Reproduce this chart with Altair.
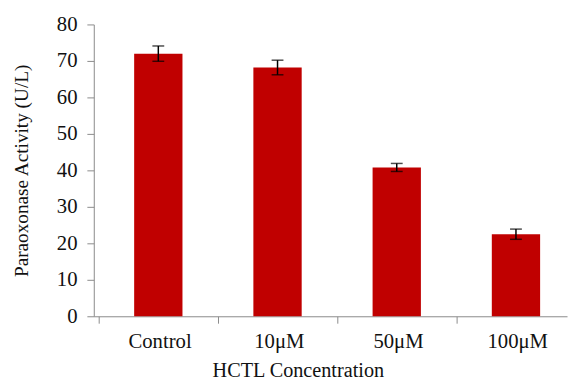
import json
import altair as alt
import pandas as pd

categories = ["Control", "10μM", "50μM", "100μM"]
values = [72.0, 68.2, 40.8, 22.5]
errors = [2.1, 2.0, 1.1, 1.4]

df = pd.DataFrame({
    "cat": categories,
    "pos": [i + 0.5 for i in range(len(categories))],
    "value": values,
    "lo": [v - e for v, e in zip(values, errors)],
    "hi": [v + e for v, e in zip(values, errors)],
})

FONT = "Liberation Serif"
AXIS_COLOR = "#8a8a8a"
TEXT_COLOR = "#111111"

label_expr = json.dumps(categories) + "[datum.value]"
xscale = alt.Scale(domain=[0, 3.887], nice=False, zero=False)
yscale = alt.Scale(domain=[0, 80], nice=False)

x_axis = alt.Axis(
    values=[0, 1, 2, 3],
    labelExpr=label_expr,
    labelOffset=61.75,
    labelFlush=False,
    labelOverlap=False,
    grid=False,
    tickSize=7,
    tickColor=AXIS_COLOR,
    domainColor=AXIS_COLOR,
    labelFont=FONT,
    labelFontSize=21,
    labelColor=TEXT_COLOR,
    labelPadding=8,
    title="HCTL  Concentration",
    titleFont=FONT,
    titleFontSize=20.5,
    titleFontWeight="normal",
    titleColor=TEXT_COLOR,
    titleX=207,
    titleY=61,
    titleAlign="center",
    titleBaseline="alphabetic",
)

y_axis = alt.Axis(
    values=list(range(0, 81, 10)),
    labelOverlap=False,
    grid=False,
    tickSize=7,
    tickColor=AXIS_COLOR,
    domainColor=AXIS_COLOR,
    labelFont=FONT,
    labelFontSize=21,
    labelColor=TEXT_COLOR,
    labelPadding=10,
    title="Paraoxonase Activity (U/L)",
    titleFont=FONT,
    titleFontSize=19.5,
    titleFontWeight="normal",
    titleColor=TEXT_COLOR,
    titleX=-73,
    titleY=148,
    titleAlign="center",
    titleBaseline="middle",
    titleAngle=270,
)

def X():
    return alt.X("pos:Q", scale=xscale, axis=x_axis)

def Y(field):
    return alt.Y(field + ":Q", scale=yscale, axis=y_axis)

bars = alt.Chart(df).mark_bar(size=49, color="#C00000").encode(x=X(), y=Y("value"))

rules = alt.Chart(df).mark_rule(color="black", strokeWidth=1.5).encode(
    x=X(), y=Y("lo"), y2="hi:Q"
)
caps_hi = alt.Chart(df).mark_tick(orient="horizontal", size=12, thickness=1.5, color="black").encode(
    x=X(), y=Y("hi")
)
caps_lo = alt.Chart(df).mark_tick(orient="horizontal", size=12, thickness=1.5, color="black").encode(
    x=X(), y=Y("lo")
)

chart = (
    alt.layer(bars, rules, caps_hi, caps_lo)
    .properties(
        width=480,
        height=296,
        autosize=alt.AutoSizeParams(type="none"),
        padding={"left": 87, "top": 14, "right": 2, "bottom": 66},
        background="white",
    )
    .configure_view(stroke=None)
)

chart.save("out.html", embed_options={"renderer": "svg", "actions": False})
